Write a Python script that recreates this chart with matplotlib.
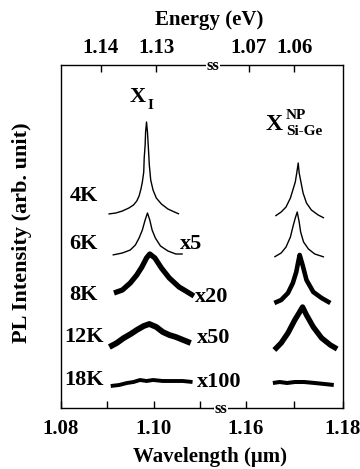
import matplotlib.pyplot as plt

plt.rcParams["font.family"] = ["Liberation Serif", "DejaVu Serif"]
plt.rcParams["font.weight"] = "bold"

# ── data: wavelength (um) / PL intensity (arb. unit, offset per trace)
temps = ["4K", "6K", "8K", "12K", "18K"]
factors = ["", "x5", "x20", "x50", "x100"]

# X_I line (left panel)
xi_4k_wl = [1.0902, 1.0918, 1.0932, 1.0946, 1.0956, 1.0963, 1.0968, 1.0972,
            1.0975, 1.0978, 1.0979, 1.0981, 1.0982, 1.0984, 1.0986, 1.0988,
            1.0990, 1.0993, 1.0998, 1.1005, 1.1016, 1.1030, 1.1044, 1.1054]
xi_4k_int = [194, 195, 197, 200, 203, 207, 212, 219, 226, 236, 250, 263,
             276, 286, 276, 260, 243, 228, 218, 210, 204, 199, 196, 194]
xi_6k_wl = [1.0911, 1.0932, 1.0949, 1.0960, 1.0968, 1.0975, 1.0981, 1.0986,
            1.0991, 1.0996, 1.1003, 1.1014, 1.1030, 1.1047, 1.1062]
xi_6k_int = [153, 155, 158, 163, 170, 178, 188, 195, 188, 178, 170, 162, 157, 154, 154]
xi_8k_wl = [1.0914, 1.0932, 1.0949, 1.0963, 1.0974, 1.0984, 1.0991, 1.1002,
            1.1016, 1.1033, 1.1054, 1.1072, 1.1086]
xi_8k_int = [115, 118, 125, 133, 141, 150, 154, 150, 140, 130, 121, 116, 112]
xi_12k_wl = [1.0904, 1.0920, 1.0935, 1.0950, 1.0963, 1.0978, 1.0990, 1.1005,
             1.1019, 1.1033, 1.1047, 1.1063, 1.1079]
xi_12k_int = [61, 65, 70, 74, 78, 82, 84, 81, 76, 73, 71, 68, 65]
xi_18k_wl = [1.0907, 1.0925, 1.0942, 1.0956, 1.0970, 1.0984, 1.0998, 1.1019, 1.1040,
             1.1062, 1.1083]
xi_18k_int = [22, 23, 25, 26, 28, 27, 28, 27, 27, 27, 26]

# X_Si-Ge NP line (right panel)
np_4k_wl = [1.1661, 1.1673, 1.1683, 1.1692, 1.1697, 1.1702, 1.1705, 1.1708,
            1.1710, 1.1714, 1.1718, 1.1725, 1.1735, 1.1749, 1.1761]
np_4k_int = [192, 196, 201, 210, 218, 226, 235, 245, 235, 225, 215, 205, 198, 193, 190]
np_6k_wl = [1.1659, 1.1673, 1.1683, 1.1692, 1.1697, 1.1702, 1.1706, 1.1710,
            1.1713, 1.1719, 1.1729, 1.1742, 1.1761]
np_6k_int = [151, 155, 161, 171, 181, 190, 196, 186, 176, 166, 159, 154, 151]
np_8k_wl = [1.1659, 1.1673, 1.1687, 1.1697, 1.1704, 1.1708, 1.1711, 1.1717,
            1.1725, 1.1739, 1.1756, 1.1774]
np_8k_int = [105, 108, 115, 125, 136, 146, 153, 143, 128, 116, 110, 105]
np_12k_wl = [1.1659, 1.1673, 1.1687, 1.1701, 1.1711, 1.1717, 1.1725, 1.1739,
             1.1756, 1.1774, 1.1788]
np_12k_int = [58, 65, 75, 88, 96, 101, 93, 81, 70, 63, 59]
np_18k_wl = [1.1656, 1.1670, 1.1685, 1.1701, 1.1720, 1.1742, 1.1762, 1.1781]
np_18k_int = [25, 26, 25, 26, 26, 25, 24, 23]

left_ticks = [1.08, 1.09, 1.10, 1.11]
left_ticklabels = ["1.08", "", "1.10", ""]
right_ticks = [1.16, 1.17, 1.18]
right_ticklabels = ["1.16", "", "1.18"]

# energy ticks (eV) and where they sit on the wavelength axis
energy_left = ["1.14", "1.13"]
energy_left_wl = [1.0885, 1.1005]
energy_right = ["1.07", "1.06"]
energy_right_wl = [1.1606, 1.1700]

W, H = 360, 469
fig = plt.figure(figsize=(W / 100, H / 100), dpi=100)
bot, top = 408, 65
axL = fig.add_axes([61 / W, (H - bot) / H, (213 - 61) / W, (bot - top) / H])
axR = fig.add_axes([213 / W, (H - bot) / H, (343 - 213) / W, (bot - top) / H])
axR.set_facecolor("none")

left_traces = [(xi_4k_wl, xi_4k_int), (xi_6k_wl, xi_6k_int), (xi_8k_wl, xi_8k_int),
               (xi_12k_wl, xi_12k_int), (xi_18k_wl, xi_18k_int)]
right_traces = [(np_4k_wl, np_4k_int), (np_6k_wl, np_6k_int), (np_8k_wl, np_8k_int),
                (np_12k_wl, np_12k_int), (np_18k_wl, np_18k_int)]
lws = [1.0, 1.0, 3.8, 4.2, 2.8]
lws_r = [1.0, 1.0, 3.3, 3.9, 2.9]

for (wl, it), lw in zip(left_traces, lws):
    axL.plot(wl, it, color="black", lw=lw, solid_joinstyle="round", solid_capstyle="butt")
for (wl, it), lw in zip(right_traces, lws_r):
    axR.plot(wl, it, color="black", lw=lw, solid_joinstyle="round", solid_capstyle="butt")

for ax in (axL, axR):
    ax.set_ylim(0, bot - top)
    ax.set_yticks([])
    for s in ax.spines.values():
        s.set_linewidth(1.0)
    ax.tick_params(axis="x", direction="in", length=5, width=1.0,
                   labelsize=15, pad=8)

axL.set_xlim(1.08, 1.1127)
axR.set_xlim(1.1533, 1.18)
axL.spines["right"].set_visible(False)
axR.spines["left"].set_visible(False)
axL.set_xticks(left_ticks, left_ticklabels)
axR.set_xticks(right_ticks, right_ticklabels)

for ax, labs, pos in ((axL, energy_left, energy_left_wl), (axR, energy_right, energy_right_wl)):
    sec = ax.secondary_xaxis("top")
    sec.set_xticks(pos, labs)
    sec.tick_params(direction="in", length=5, width=1.0, labelsize=15, pad=5)
    sec.spines["top"].set_visible(False)

# temperature and multiplication labels
temp_y = [212, 164, 113, 71, 28]
for t, y in zip(temps, temp_y):
    axL.text(1.0818 if len(t) == 2 else 1.0807, y, t, fontsize=16,
             fontweight="bold", va="center", ha="left")
fac_x = [None, 1.1056, 1.1088, 1.1093, 1.1093]
fac_y = [None, 164, 111, 70, 26]
for f, x, y in zip(factors, fac_x, fac_y):
    if f:
        axL.text(x, y, f, fontsize=16, fontweight="bold", va="center", ha="left",
                 clip_on=False, zorder=5)

# peak names
axL.text(1.0948, 311, "X", fontsize=16, fontweight="bold", va="center")
axL.text(1.0986, 303, "I", fontsize=11, fontweight="bold", va="center")
axR.text(1.1640, 284, "X", fontsize=17, fontweight="bold", va="center")
axR.text(1.1683, 293, "NP", fontsize=11, fontweight="bold", va="center")
axR.text(1.1683, 277, "Si-Ge", fontsize=11, fontweight="bold", va="center")

# axis-break marks
for x, y in ((213, top + 1), (221, bot + 1)):
    fig.text(x / W, (H - y) / H, "ss", fontsize=12, fontweight="bold",
             ha="center", va="center",
             bbox=dict(facecolor="white", edgecolor="none", pad=0.3))

fig.text(209 / W, 1 - 20 / H, "Energy (eV)", fontsize=15, fontweight="bold",
         ha="center", va="center")
fig.text(210 / W, 1 - 457 / H, "Wavelength (\u03bcm)", fontsize=15, fontweight="bold",
         ha="center", va="center")
fig.text(22 / W, 1 - 233 / H, "PL Intensity (arb. unit)", fontsize=16,
         fontweight="bold", rotation=90, ha="center", va="center")

fig.savefig("out.png", dpi=100)
